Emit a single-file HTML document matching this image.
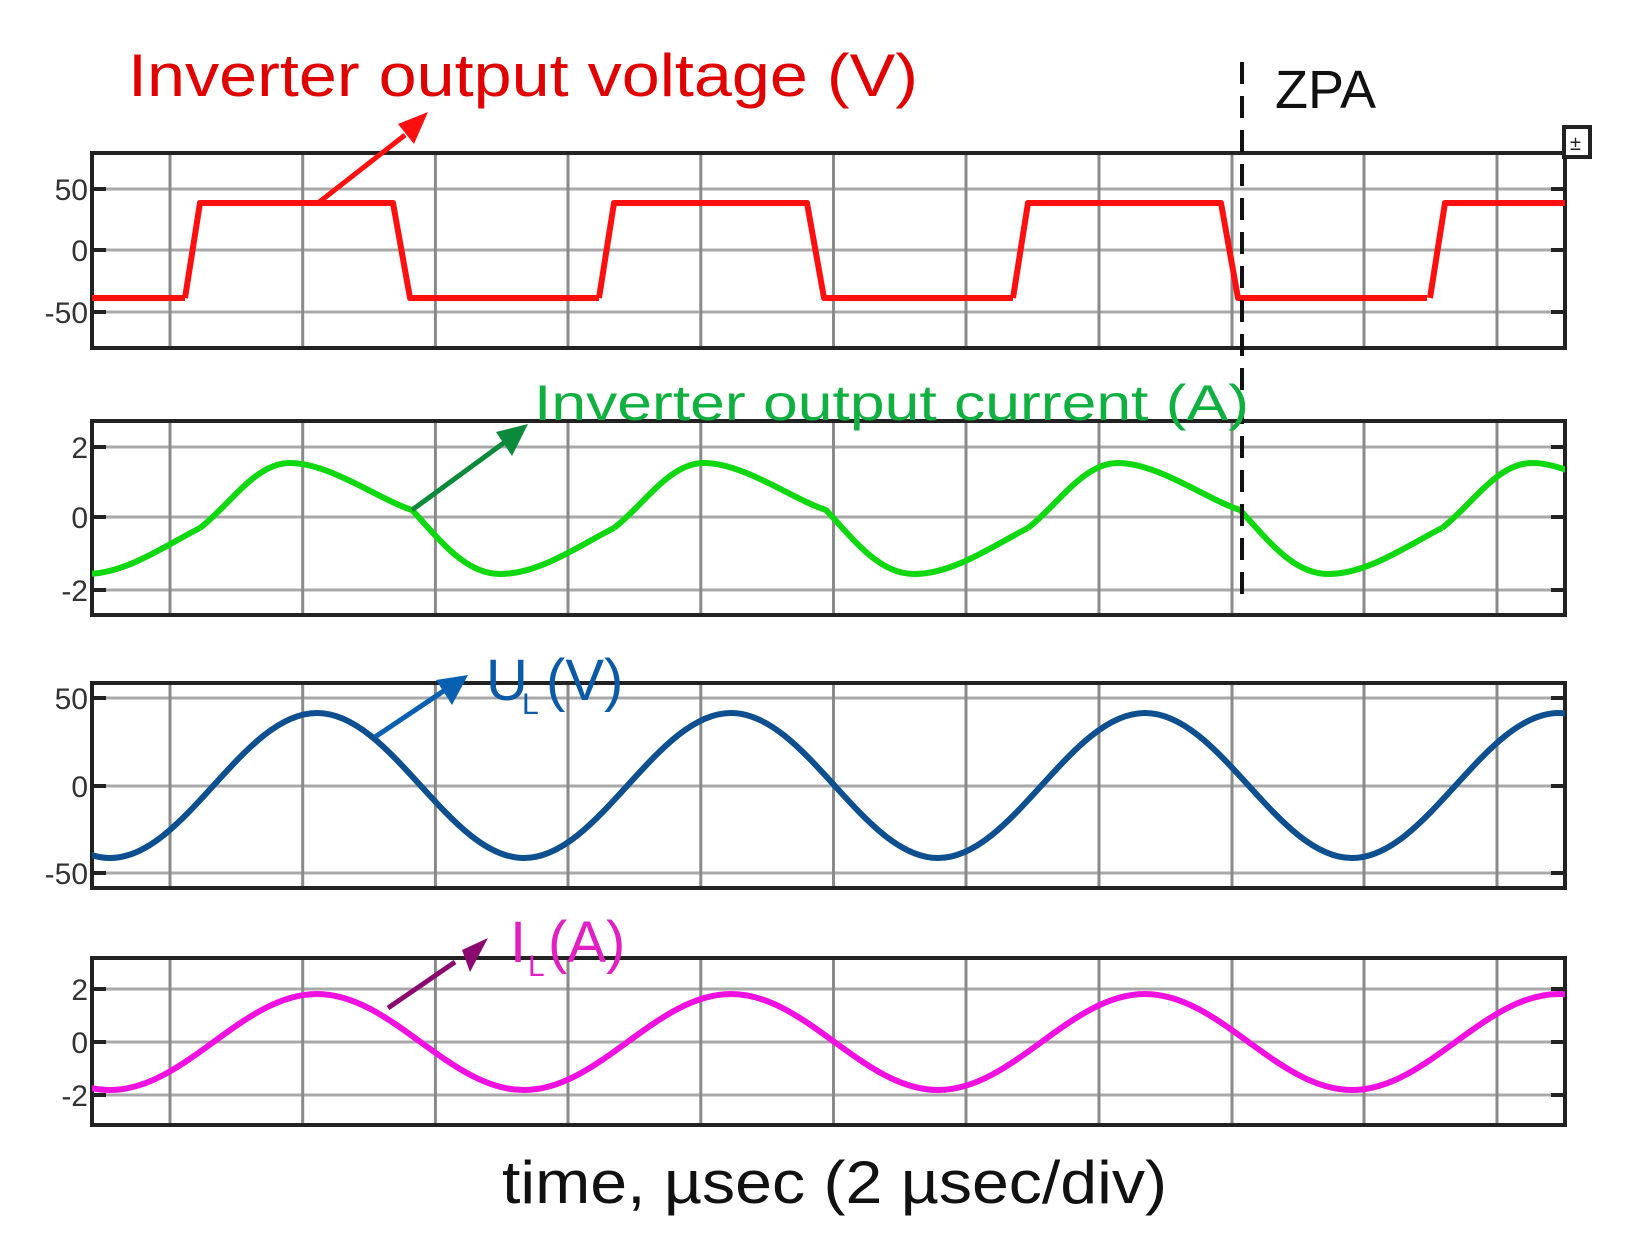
<!DOCTYPE html>
<html><head><meta charset="utf-8"><style>
html,body{margin:0;padding:0;background:#fff;}
svg{display:block;}
text{font-family:"Liberation Sans",sans-serif;}
</style></head><body>
<svg width="1634" height="1248" viewBox="0 0 1634 1248" xmlns="http://www.w3.org/2000/svg">
<defs>
<clipPath id="c1"><rect x="92" y="153" width="1473" height="195"/></clipPath>
<clipPath id="c2"><rect x="92" y="421" width="1473" height="194"/></clipPath>
<clipPath id="c3"><rect x="92" y="683" width="1473" height="205"/></clipPath>
<clipPath id="c4"><rect x="92" y="958" width="1473" height="167"/></clipPath>
<path id="redp" d="M185,298 L200,203 L393,203 L410,298 L599,298"/>
<path id="grnp" d="M200,528 C230,505 255,463 290,463 C330,463 380,500 412,510 C440,540 465,574 500,574 C540,574 580,545 614,528"/>
<path id="vl" d="M170,0V1M302.7,0V1M435.4,0V1M568,0V1M700.8,0V1M833.5,0V1M966,0V1M1099,0V1M1232,0V1M1364,0V1M1497,0V1"/>
</defs>

<g stroke="#a8a8a8" stroke-width="3">
<line x1="92" x2="1565" y1="189" y2="189"/><line x1="92" x2="1565" y1="250" y2="250"/><line x1="92" x2="1565" y1="312" y2="312"/>
<line x1="92" x2="1565" y1="447" y2="447"/><line x1="92" x2="1565" y1="517" y2="517"/><line x1="92" x2="1565" y1="590" y2="590"/>
<line x1="92" x2="1565" y1="698" y2="698"/><line x1="92" x2="1565" y1="786" y2="786"/><line x1="92" x2="1565" y1="873" y2="873"/>
<line x1="92" x2="1565" y1="989" y2="989"/><line x1="92" x2="1565" y1="1042" y2="1042"/><line x1="92" x2="1565" y1="1095" y2="1095"/>
</g>
<g stroke="#8a8a8a" stroke-width="3">
<path d="M170,153V348M302.7,153V348M435.4,153V348M568,153V348M700.8,153V348M833.5,153V348M966,153V348M1099,153V348M1232,153V348M1364,153V348M1497,153V348"/>
<path d="M170,421V615M302.7,421V615M435.4,421V615M568,421V615M700.8,421V615M833.5,421V615M966,421V615M1099,421V615M1232,421V615M1364,421V615M1497,421V615"/>
<path d="M170,683V888M302.7,683V888M435.4,683V888M568,683V888M700.8,683V888M833.5,683V888M966,683V888M1099,683V888M1232,683V888M1364,683V888M1497,683V888"/>
<path d="M170,958V1125M302.7,958V1125M435.4,958V1125M568,958V1125M700.8,958V1125M833.5,958V1125M966,958V1125M1099,958V1125M1232,958V1125M1364,958V1125M1497,958V1125"/>
</g>
<g fill="none" stroke="#222" stroke-width="4">
<rect x="92" y="153" width="1473" height="195"/>
<rect x="92" y="421" width="1473" height="194"/>
<rect x="92" y="683" width="1473" height="205"/>
<rect x="92" y="958" width="1473" height="167"/>
</g>
<g stroke="#222" stroke-width="4">
<path d="M92,189h14M92,250h14M92,312h14M92,447h14M92,517h14M92,590h14M92,698h14M92,786h14M92,873h14M92,989h14M92,1042h14M92,1095h14"/>
<path d="M1565,189h-14M1565,250h-14M1565,312h-14M1565,447h-14M1565,517h-14M1565,590h-14M1565,698h-14M1565,786h-14M1565,873h-14M1565,989h-14M1565,1042h-14M1565,1095h-14"/>
</g>
<g font-size="30" fill="#333" text-anchor="end">
<text x="88" y="200">50</text><text x="88" y="261">0</text><text x="88" y="323">-50</text>
<text x="88" y="458">2</text><text x="88" y="528">0</text><text x="88" y="601">-2</text>
<text x="88" y="709">50</text><text x="88" y="797">0</text><text x="88" y="884">-50</text>
<text x="88" y="1000">2</text><text x="88" y="1053">0</text><text x="88" y="1106">-2</text>
</g>
<rect x="1564" y="127" width="26" height="30" fill="#fff" stroke="#222" stroke-width="4"/>
<text x="1570" y="150" font-size="20" fill="#222">±</text>

<g clip-path="url(#c1)" fill="none" stroke="#ff1010" stroke-width="6" stroke-linejoin="round">
<line x1="80" y1="298" x2="185" y2="298"/>
<use href="#redp" transform="translate(-414,0)"/>
<use href="#redp"/>
<use href="#redp" transform="translate(414,0)"/>
<use href="#redp" transform="translate(828,0)"/>
<use href="#redp" transform="translate(1245,0)"/>
</g>
<g clip-path="url(#c2)" fill="none" stroke="#10d810" stroke-width="6" stroke-linejoin="round">
<use href="#grnp" transform="translate(-414,0)"/>
<use href="#grnp"/>
<use href="#grnp" transform="translate(414,0)"/>
<use href="#grnp" transform="translate(828,0)"/>
<use href="#grnp" transform="translate(1242,0)"/>
</g>
<g clip-path="url(#c3)" fill="none" stroke="#0d4f8f" stroke-width="6">
<path d="M-97,713 C-22,713 35,858 110,858 C185,858 242,713 317,713 C392,713 449,858 524,858 C599,858 656,713 731,713 C806,713 863,858 938,858 C1013,858 1070,713 1145,713 C1220,713 1277,858 1352,858 C1427,858 1484,713 1559,713 C1634,713 1691,858 1766,858"/>
</g>
<g clip-path="url(#c4)" fill="none" stroke="#f010e0" stroke-width="6">
<path d="M-97,994 C-22,994 35,1090 110,1090 C185,1090 242,994 317,994 C392,994 449,1090 524,1090 C599,1090 656,994 731,994 C806,994 863,1090 938,1090 C1013,1090 1070,994 1145,994 C1220,994 1277,1090 1352,1090 C1427,1090 1484,994 1559,994 C1634,994 1691,1090 1766,1090"/>
</g>

<line x1="1242" y1="62" x2="1242" y2="605" stroke="#111" stroke-width="4" stroke-dasharray="22,12"/>
<text x="1275" y="108" font-size="54" fill="#111">ZPA</text>

<g stroke-width="5">
<line x1="318" y1="203" x2="405" y2="135" stroke="#ff1010"/>
<polygon points="428,112 398,124 414,144" fill="#ff1010"/>
<line x1="412" y1="510" x2="505" y2="442" stroke="#0a8a3a"/>
<polygon points="528,424 496,432 512,456" fill="#0a8a3a"/>
<line x1="375" y1="737" x2="445" y2="690" stroke="#0a60b0"/>
<polygon points="468,675 436,680 452,705" fill="#0a60b0"/>
<line x1="388" y1="1008" x2="455" y2="962" stroke="#8a0a70"/>
<polygon points="488,938 462,950 470,972" fill="#8a0a70"/>
</g>

<text x="128" y="96" font-size="60" fill="#e00000" textLength="790" lengthAdjust="spacingAndGlyphs">Inverter output voltage (V)</text>
<text x="534" y="420" font-size="50" fill="#10b040" textLength="715" lengthAdjust="spacingAndGlyphs">Inverter output current (A)</text>
<text x="486" y="700" font-size="58" fill="#0a5aa8">U</text>
<text x="522" y="714" font-size="30" fill="#0a5aa8">L</text>
<text x="546" y="700" font-size="58" fill="#0a5aa8">(V)</text>
<text x="510" y="962" font-size="58" fill="#e020c0">I</text>
<text x="528" y="976" font-size="30" fill="#e020c0">L</text>
<text x="548" y="962" font-size="58" fill="#e020c0">(A)</text>
<text x="502" y="1203" font-size="60" fill="#111" textLength="665" lengthAdjust="spacingAndGlyphs">time, µsec (2 µsec/div)</text>
</svg>
</body></html>
